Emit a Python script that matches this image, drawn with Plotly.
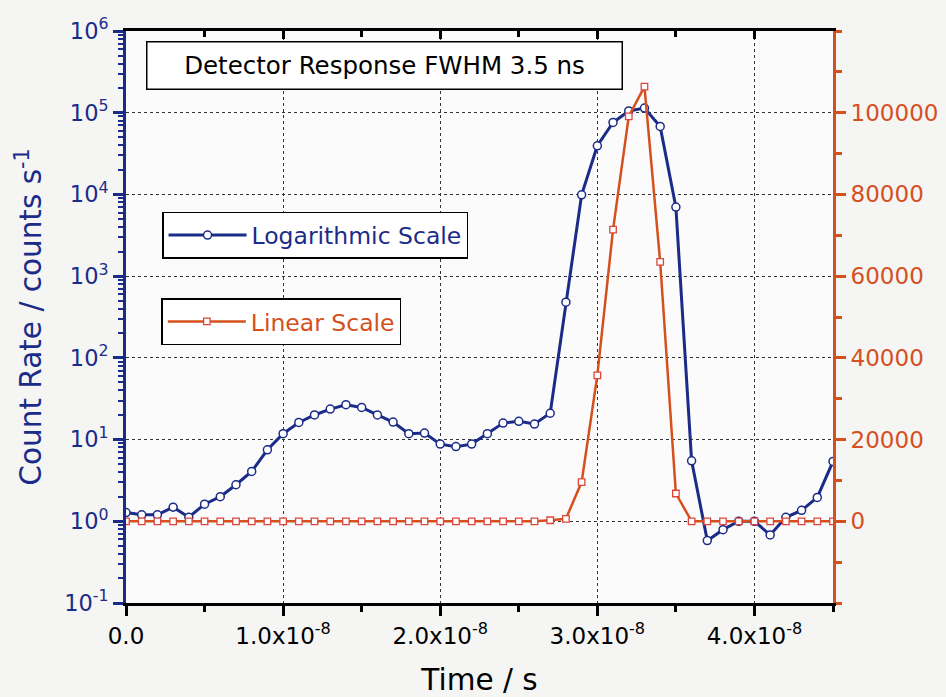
import plotly.graph_objects as go

# ---- data ----
time_ns = [0, 1, 2, 3, 4, 5, 6, 7, 8, 9, 10, 11, 12, 13, 14, 15, 16, 17, 18, 19,
           20, 21, 22, 23, 24, 25, 26, 27, 28, 29, 30, 31, 32, 33, 34, 35, 36, 37,
           38, 39, 40, 41, 42, 43, 44, 45]
log_counts = [1.28, 1.2, 1.2, 1.49, 1.12, 1.62, 2.0, 2.8, 4.07, 7.5,
              11.8, 16.2, 20, 23.6, 26.7, 24.7, 20, 16.4, 11.8, 12,
              8.8, 8.2, 8.8, 11.8, 15.9, 16.7, 15.5, 21, 480, 9900,
              39400, 76000, 105000, 114000, 68000, 7000, 5.5, 0.58, 0.79, 1.0,
              1.0, 0.68, 1.12, 1.36, 1.96, 5.4]
lin_counts = [0, 0, 0, 0, 0, 0, 0, 0, 0, 0,
              0, 0, 0, 0, 0, 0, 0, 0, 0, 0,
              0, 0, 0, 0, 0, 0, 0, 250, 600, 9600,
              35700, 71400, 99100, 106400, 63500, 6800, 0, 0, 0, 0,
              0, 0, 0, 0, 0, 0]
time_s = [v * 1e-9 for v in time_ns]

x_tickvals = [0, 1e-8, 2e-8, 3e-8, 4e-8]
x_ticktext = ["0.0", "1.0x10<sup>-8</sup>", "2.0x10<sup>-8</sup>",
              "3.0x10<sup>-8</sup>", "4.0x10<sup>-8</sup>"]
y_tickvals = [0.1, 1, 10, 100, 1000, 1e4, 1e5, 1e6]
y_ticktext = ["10<sup>-1</sup>", "10<sup>0</sup>", "10<sup>1</sup>", "10<sup>2</sup>",
              "10<sup>3</sup>", "10<sup>4</sup>", "10<sup>5</sup>", "10<sup>6</sup>"]
y2_tickvals = [0, 20000, 40000, 60000, 80000, 100000]
y2_ticktext = ["0", "20000", "40000", "60000", "80000", "100000"]

BLUE = "#1b2b88"
RED = "#d4501e"
SQ = "#e0453a"
FONT = "DejaVu Sans"

log_minor = [m * 10 ** k for k in range(-1, 6) for m in range(2, 10)]

fig = go.Figure()
fig.add_trace(go.Scatter(
    x=time_s, y=log_counts, mode="lines+markers", name="Logarithmic Scale",
    line=dict(color=BLUE, width=3),
    marker=dict(symbol="circle", size=8, color="white", line=dict(color=BLUE, width=1.5)),
    xaxis="x", yaxis="y", legend="legend"))
fig.add_trace(go.Scatter(
    x=time_s, y=lin_counts, mode="lines+markers", name="Linear Scale",
    line=dict(color=RED, width=2.5),
    marker=dict(symbol="square", size=6.5, color="white", line=dict(color=SQ, width=1.3)),
    xaxis="x2", yaxis="y2", legend="legend2"))

grid = dict(showgrid=True, gridcolor="#333333", griddash="dot", gridwidth=1.3)

fig.update_layout(
    width=946, height=697,
    margin=dict(l=126, r=113, t=31, b=94),
    paper_bgcolor="#f5f5f4", plot_bgcolor="#fbfbfb",
    font=dict(family=FONT),
    xaxis=dict(range=[0, 4.5e-8], tickvals=x_tickvals, ticktext=x_ticktext,
               ticks="outside", ticklen=10, tickwidth=3, tickcolor="black",
               showline=True, linecolor="black", linewidth=3, zeroline=False,
               automargin=False,
               tickfont=dict(size=23, color="black"),
               minor=dict(dtick=0.5e-8, tick0=0, ticks="outside", ticklen=6,
                          tickwidth=3, tickcolor="black", showgrid=False),
               title=dict(text="Time / s", font=dict(size=29.5, color="black"), standoff=22),
               **grid),
    xaxis2=dict(range=[0, 4.5e-8], overlaying="x", side="top", anchor="y2",
                tickvals=x_tickvals, showticklabels=False, automargin=False,
                ticks="inside", ticklen=8, tickwidth=3, tickcolor="black",
                showline=True, linecolor="black", linewidth=2.5, zeroline=False, showgrid=False,
                minor=dict(dtick=0.5e-8, tick0=0, ticks="inside", ticklen=6,
                           tickwidth=3, tickcolor="black", showgrid=False)),
    yaxis=dict(type="log", range=[-1, 6], tickvals=y_tickvals, ticktext=y_ticktext,
               ticks="outside", ticklen=10, tickwidth=3, tickcolor=BLUE,
               showline=True, linecolor=BLUE, linewidth=3, zeroline=False,
               automargin=False,
               tickfont=dict(size=22.5, color=BLUE),
               minor=dict(tickvals=log_minor, ticks="outside", ticklen=5,
                          tickwidth=2, tickcolor=BLUE, showgrid=False),
               title=dict(text="Count Rate / counts s<sup>-1</sup>",
                          font=dict(size=29.5, color=BLUE), standoff=14),
               **grid),
    yaxis2=dict(range=[-20000, 120000], overlaying="y", side="right", anchor="x2",
                tickvals=y2_tickvals, ticktext=y2_ticktext, automargin=False,
                ticks="outside", ticklen=10, tickwidth=3, tickcolor=RED,
                showline=True, linecolor=RED, linewidth=3, zeroline=False, showgrid=False,
                tickfont=dict(size=23, color=RED),
                minor=dict(dtick=10000, tick0=0, ticks="outside", ticklen=6,
                           tickwidth=3, tickcolor=RED, showgrid=False)),
    showlegend=True,
    legend=dict(x=0.051, y=0.684, xanchor="left", yanchor="top",
                bgcolor="white", bordercolor="black", borderwidth=1.5,
                font=dict(size=23.5, color=BLUE, family=FONT), itemwidth=78),
    legend2=dict(x=0.05, y=0.533, xanchor="left", yanchor="top",
                 bgcolor="white", bordercolor="black", borderwidth=1.5,
                 font=dict(size=23.5, color=RED, family=FONT), itemwidth=78),
    annotations=[dict(text="Detector Response FWHM 3.5 ns", xref="paper", yref="paper",
                      x=0.365, y=0.939, xanchor="center", yanchor="middle",
                      showarrow=False, font=dict(size=24.5, color="black", family=FONT),
                      bgcolor="white", bordercolor="black", borderwidth=1.5,
                      width=472, height=44, borderpad=1)],
)

fig.write_html("out.html")
